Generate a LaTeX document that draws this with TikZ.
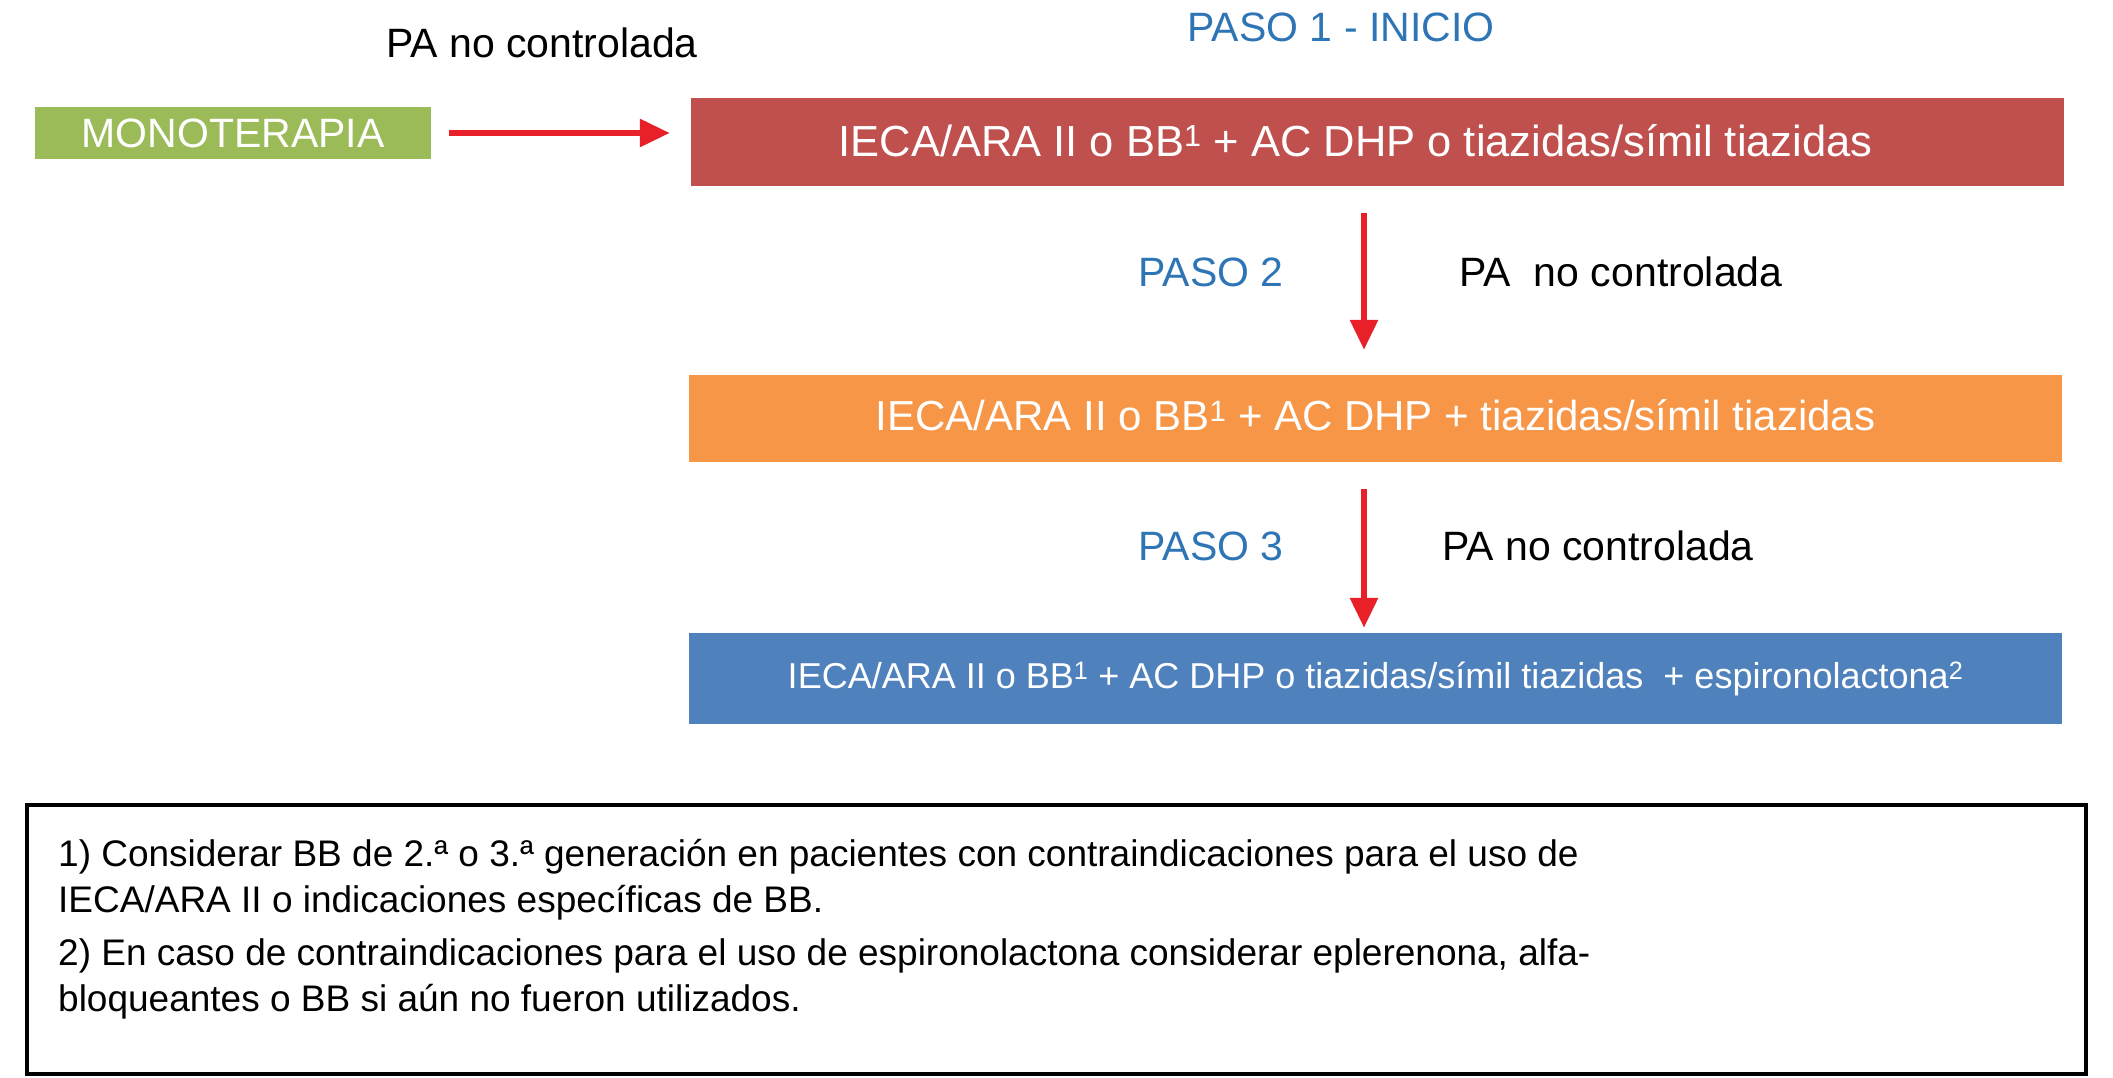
\documentclass[tikz,border=0pt]{standalone}
\usepackage{fontspec}
\setmainfont{Liberation Sans}
\usetikzlibrary{arrows.meta}
\definecolor{boxred}{RGB}{192,80,77}
\definecolor{boxgreen}{RGB}{155,187,89}
\definecolor{boxorange}{RGB}{247,150,70}
\definecolor{boxblue}{RGB}{79,129,189}
\definecolor{arrowred}{RGB}{232,32,40}
\definecolor{stepblue}{RGB}{46,117,182}
\tikzset{
  big/.style={font=\fontsize{42}{50}\selectfont},
  bigger/.style={font=\fontsize{43.5}{52}\selectfont},
  lab/.style={font=\fontsize{41}{49}\selectfont},
  mid/.style={font=\fontsize{36}{43}\selectfont},
  note/.style={font=\fontsize{37}{44}\selectfont, anchor=base west, inner sep=0pt},
  colbox/.style={text=white, inner sep=0pt, minimum width=1373pt},
  flow/.style={draw=arrowred, line width=6pt, -{Triangle[length=30pt,width=27pt]}},
  steplabel/.style={lab, text=stepblue},
  plain/.style={lab, text=black},
}
\begin{document}
\begin{tikzpicture}[x=1pt,y=-1pt]
\useasboundingbox (0,0) rectangle (2113,1078);

\node (pa0) [plain] at (542,43) {PA no controlada};
\node (paso1) [steplabel] at (1341,27) {PASO 1 - INICIO};

\node (mono) [lab, fill=boxgreen, text=white, inner sep=0pt, minimum width=396pt, minimum height=52pt] at (233,133) {MONOTERAPIA};
\node (b1) [bigger, colbox, fill=boxred, minimum height=88pt] at (1377.5,142) {\kern-44pt\raisebox{4pt}{IECA/ARA II o BB\textsuperscript{1} + AC DHP o tiazidas/símil tiazidas}};
\node (b2) [big, colbox, fill=boxorange, minimum height=87pt] at (1375.5,418.5) {\raisebox{6pt}{IECA/ARA II o BB\textsuperscript{1} + AC DHP + tiazidas/símil tiazidas}};
\node (b3) [mid, colbox, fill=boxblue, minimum height=91pt] at (1375.5,678.5) {\raisebox{7pt}{IECA/ARA II o BB\textsuperscript{1} + AC DHP o tiazidas/símil tiazidas\ \ + espironolactona\textsuperscript{2}}};

\coordinate (ax) at (1364,0);
\draw[flow, shorten <=18pt, shorten >=21pt] (mono.east) -- (b1.west |- mono.east);
\draw[flow, shorten <=27pt, shorten >=25pt] (b1.south -| ax) -- (b2.north -| ax);
\draw[flow, shorten <=27pt, shorten >=5pt] (b2.south -| ax) -- (b3.north -| ax);

\node (paso2) [steplabel] at (1211,272) {PASO 2};
\node (pa2) [plain] at (1621,272) {PA\ \ no controlada};
\node (paso3) [steplabel] at (1211,546) {PASO 3};
\node (pa3) [plain] at (1598,546) {PA no controlada};

\node (notes) [draw=black, line width=4pt, minimum width=2059pt, minimum height=269pt, inner sep=0pt] at (1056.5,939.5) {};
\node (n1) [note] at (58,866) {1) Considerar BB de 2.ª o 3.ª generación en pacientes con contraindicaciones para el uso de};
\node (n2) [note] at (58,912) {IECA/ARA II o indicaciones específicas de BB.};
\node (n3) [note] at (58,965) {2) En caso de contraindicaciones para el uso de espironolactona considerar eplerenona, alfa-};
\node (n4) [note] at (58,1011) {bloqueantes o BB si aún no fueron utilizados.};
\end{tikzpicture}
\end{document}
